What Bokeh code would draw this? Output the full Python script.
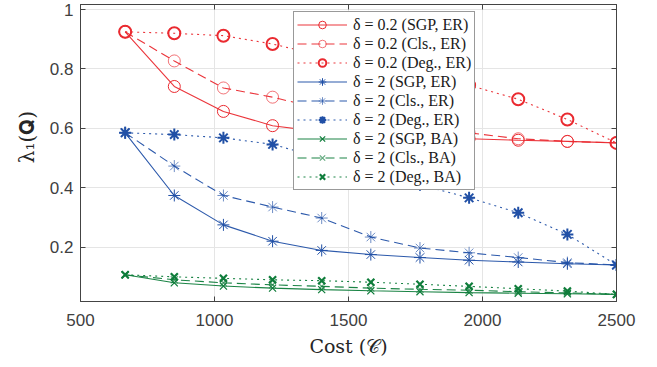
from bokeh.plotting import figure
from bokeh.models import Range1d, FixedTicker, LinearAxis, Legend, LegendItem
from bokeh.embed import file_html
from bokeh.resources import INLINE

# ---- data ----
cost = [666.7, 850.0, 1033.3, 1216.7, 1400.0, 1583.3, 1766.7, 1950.0, 2133.3, 2316.7, 2500.0]

red_sgp = [0.925, 0.741, 0.657, 0.609, 0.588, 0.578, 0.570, 0.565, 0.560, 0.556, 0.551]
red_cls = [0.925, 0.827, 0.736, 0.705, 0.665, 0.635, 0.610, 0.585, 0.565, 0.556, 0.551]
red_deg = [0.925, 0.920, 0.912, 0.884, 0.845, 0.820, 0.785, 0.745, 0.698, 0.630, 0.551]

blue_sgp = [0.585, 0.374, 0.275, 0.220, 0.189, 0.175, 0.165, 0.156, 0.150, 0.144, 0.140]
blue_cls = [0.585, 0.473, 0.374, 0.335, 0.298, 0.234, 0.197, 0.181, 0.165, 0.148, 0.140]
blue_deg = [0.585, 0.579, 0.568, 0.546, 0.500, 0.455, 0.410, 0.366, 0.316, 0.243, 0.140]

green_sgp = [0.107, 0.080, 0.069, 0.062, 0.057, 0.053, 0.050, 0.047, 0.045, 0.043, 0.041]
green_cls = [0.107, 0.090, 0.080, 0.073, 0.068, 0.062, 0.058, 0.055, 0.050, 0.046, 0.041]
green_deg = [0.107, 0.100, 0.095, 0.090, 0.087, 0.082, 0.075, 0.068, 0.060, 0.052, 0.041]

labels = [
    "δ = 0.2 (SGP, ER)", "δ = 0.2 (Cls., ER)", "δ = 0.2 (Deg., ER)",
    "δ = 2 (SGP, ER)", "δ = 2 (Cls., ER)", "δ = 2 (Deg., ER)",
    "δ = 2 (SGP, BA)", "δ = 2 (Cls., BA)", "δ = 2 (Deg., BA)",
]
x_ticks = [500, 1000, 1500, 2000, 2500]
y_ticks = [0.2, 0.4, 0.6, 0.8, 1.0]

RED = "#ea2a30"
BLUE = "#2150a6"
GREEN = "#0f7d3b"

series = [
    (red_sgp, RED, "solid", "circle", 12, 1.0, 1.0),
    (red_cls, RED, "9 5", "circle", 12, 1.0, 0.65),
    (red_deg, RED, "2 4", "circle", 12, 2.0, 1.0),
    (blue_sgp, BLUE, "solid", "asterisk", 12, 1.0, 1.0),
    (blue_cls, BLUE, "9 5", "asterisk", 12, 1.0, 0.65),
    (blue_deg, BLUE, "2 4", "asterisk", 12, 2.0, 1.0),
    (green_sgp, GREEN, "solid", "x", 10, 1.2, 1.0),
    (green_cls, GREEN, "9 5", "x", 10, 1.2, 0.65),
    (green_deg, GREEN, "2 4", "x", 10, 2.2, 1.0),
]

p = figure(width=657, height=367, output_backend="svg", toolbar_location=None,
           x_range=Range1d(500, 2500), y_range=Range1d(0.017, 1.017),
           min_border_left=80, min_border_right=41, min_border_top=4, min_border_bottom=66,
           background_fill_color="white", border_fill_color="white")

p.outline_line_color = "#444444"
p.outline_line_width = 1

items = []
for (vals, col, dash, mk, sz, mlw, malpha), lab in zip(series, labels):
    lr = p.line(cost, vals, line_color=col, line_width=1.1, line_dash=dash, line_alpha=0.95)
    sr = p.scatter(cost, vals, marker=mk, size=sz, line_color=col, line_width=mlw,
                   fill_color=None, line_alpha=malpha)
    items.append(LegendItem(label=lab, renderers=[lr, sr]))

# axes
for ax in [p.xaxis[0], p.yaxis[0]]:
    ax.axis_line_color = "#444444"
    ax.major_tick_line_color = "#444444"
    ax.major_tick_in = 5
    ax.major_tick_out = 0
    ax.minor_tick_line_color = None
    ax.major_label_text_font = "Liberation Sans"
    ax.major_label_text_font_size = "17px"
    ax.major_label_text_color = "#404040"
    ax.axis_label_text_font = "DejaVu Serif"
    ax.axis_label_text_font_style = "normal"
    ax.axis_label_text_font_size = "19px"
    ax.axis_label_text_color = "#262626"

p.xaxis[0].ticker = FixedTicker(ticks=x_ticks)
p.yaxis[0].ticker = FixedTicker(ticks=y_ticks)
p.yaxis[0].major_label_overrides = {1.0: "1", 1: "1"}
p.xaxis[0].major_label_standoff = 12
p.yaxis[0].major_label_standoff = 7
p.xaxis[0].axis_label = "Cost (𝒞)"
p.yaxis[0].axis_label = "\u00a0" * 5 + "λ₁(𝐐)"
p.yaxis[0].axis_label_text_font_size = "20px"
p.xaxis[0].axis_label_standoff = 6
p.yaxis[0].axis_label_standoff = 8

# box ticks on top/right (no labels drawn)
for loc, tk in (("right", y_ticks), ("above", x_ticks)):
    bx = LinearAxis(ticker=FixedTicker(ticks=tk), major_label_text_font_size="1px",
                    major_label_text_color=None, major_label_standoff=0,
                    axis_line_color="#444444", major_tick_line_color="#444444",
                    major_tick_in=5, major_tick_out=0, minor_tick_line_color=None)
    p.add_layout(bx, loc)

p.xgrid.ticker = FixedTicker(ticks=x_ticks)
p.ygrid.ticker = FixedTicker(ticks=y_ticks)
p.grid.grid_line_color = "#e5e5e5"
p.grid.grid_line_width = 1

legend = Legend(items=items, location=(213, 111),
                border_line_color="#333333", border_line_width=1,
                background_fill_color="white", background_fill_alpha=1.0,
                label_text_font="Liberation Serif", label_text_font_size="16px",
                label_text_color="#1a1a1a",
                glyph_width=50, glyph_height=19, label_height=19, spacing=0,
                padding=3, margin=0, label_standoff=6)
p.add_layout(legend)

open("out.html", "w").write(file_html(p, INLINE))
